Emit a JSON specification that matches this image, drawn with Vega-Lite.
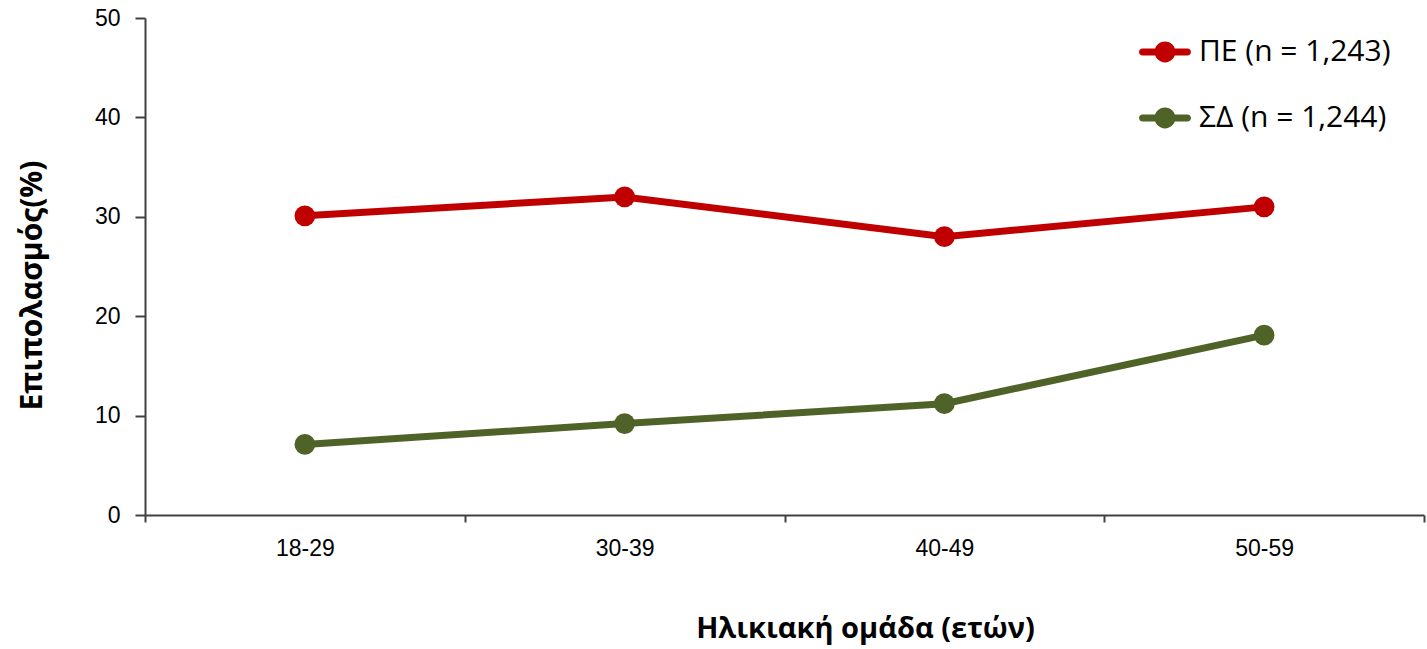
{
  "$schema": "https://vega.github.io/schema/vega-lite/v6.json",
  "autosize": "none",
  "width": 1279,
  "height": 497,
  "padding": {"left": 145, "top": 18, "right": 3, "bottom": 134},
  "background": "white",
  "config": {
    "view": {"stroke": null},
    "axis": {
      "domainColor": "#404040",
      "domainWidth": 2,
      "tickColor": "#404040",
      "tickWidth": 2,
      "labelFont": "Liberation Sans",
      "labelFontSize": 23,
      "labelColor": "#000000",
      "titleFont": "Open Sans",
      "titleFontWeight": "bold",
      "titleColor": "#000000",
      "grid": false
    }
  },
  "data": {
    "values": [
      {"group": "ΠΕ (n = 1,243)", "age": "18-29", "value": 30.1},
      {"group": "ΠΕ (n = 1,243)", "age": "30-39", "value": 32.0},
      {"group": "ΠΕ (n = 1,243)", "age": "40-49", "value": 28.0},
      {"group": "ΠΕ (n = 1,243)", "age": "50-59", "value": 31.0},
      {"group": "ΣΔ (n = 1,244)", "age": "18-29", "value": 7.1},
      {"group": "ΣΔ (n = 1,244)", "age": "30-39", "value": 9.2},
      {"group": "ΣΔ (n = 1,244)", "age": "40-49", "value": 11.2},
      {"group": "ΣΔ (n = 1,244)", "age": "50-59", "value": 18.1}
    ]
  },
  "mark": {
    "type": "line",
    "strokeWidth": 7,
    "point": {"filled": true, "size": 430, "opacity": 1}
  },
  "encoding": {
    "x": {
      "field": "age",
      "type": "nominal",
      "sort": ["18-29", "30-39", "40-49", "50-59"],
      "scale": {"type": "band", "paddingInner": 0, "paddingOuter": 0},
      "axis": {
        "title": "Ηλικιακή ομάδα (ετών)",
        "titleFontSize": 29,
        "titleX": 720,
        "titleY": 113,
        "titleBaseline": "middle",
        "titleAnchor": null,
        "titleAlign": "center",
        "labelAngle": 0,
        "tickBand": "extent",
        "tickSize": 7,
        "labelPadding": 15
      }
    },
    "y": {
      "field": "value",
      "type": "quantitative",
      "scale": {"domain": [0, 50], "nice": false},
      "axis": {
        "title": "Επιπολασμός(%)",
        "titleFontSize": 30,
        "titleX": -113,
        "titleY": 267,
        "titleAngle": -90,
        "titleBaseline": "middle",
        "titleAlign": "center",
        "values": [0, 10, 20, 30, 40, 50],
        "tickSize": 10,
        "labelPadding": 15
      }
    },
    "color": {
      "field": "group",
      "type": "nominal",
      "scale": {
        "domain": ["ΠΕ (n = 1,243)", "ΣΔ (n = 1,244)"],
        "range": ["#C00000", "#4F6228"]
      },
      "legend": {
        "title": null,
        "orient": "none",
        "legendX": 994,
        "legendY": 8,
        "padding": 0,
        "symbolType": "M-0.865,-0.135 L0.865,-0.135 A0.135,0.135 0 0 1 0.865,0.135 L-0.865,0.135 A0.135,0.135 0 0 1 -0.865,-0.135 Z M-0.4,0 A0.4,0.4 0 1 1 0.4,0 A0.4,0.4 0 1 1 -0.4,0 Z",
        "symbolSize": 2704,
        "symbolStrokeWidth": 0,
        "labelFont": "Open Sans",
        "labelFontSize": 30,
        "labelColor": "#000000",
        "labelOffset": 8,
        "rowPadding": 25,
        "labelLimit": 400,
        "encode": {
          "symbols": {
            "update": {
              "fill": {"scale": "color", "field": "value"},
              "fillOpacity": {"value": 1},
              "strokeWidth": {"value": 0}
            }
          }
        }
      }
    }
  }
}
